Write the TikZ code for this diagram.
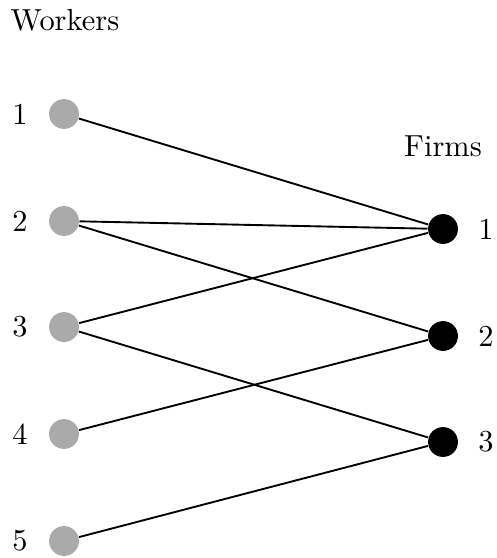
\documentclass[tikz,border=0pt]{standalone}
\definecolor{wgray}{RGB}{170,170,170}
\tikzset{
  worker/.style={circle,fill=wgray,inner sep=0pt,minimum size=10.3pt},
  firm/.style={circle,fill=black,inner sep=0pt,minimum size=10.3pt},
  lab/.style={inner sep=0pt,font=\fontsize{10.5pt}{12pt}\selectfont},
  edge/.style={line width=0.65pt}
}
\begin{document}
\begin{tikzpicture}[x=0.345pt,y=-0.345pt]
\useasboundingbox (0,0) rectangle (496,558);
\node[lab] (wt) at (65,20) {Workers};
\node[lab] (ft) at (443,146) {Firms};
\foreach \i/\y in {1/114,2/221,3/327,4/434,5/541}{
  \node[worker] (w\i) at (64,\y) {};
  \node[lab] (wl\i) at (20,\y) {\i};
}
\foreach \i/\y in {1/229,2/336,3/442}{
  \node[firm] (f\i) at (443,\y) {};
  \node[lab] (fl\i) at (486,\y) {\i};
}
\draw[edge] (w1) -- (f1);
\draw[edge] (w2) -- (f1);
\draw[edge] (w2) -- (f2);
\draw[edge] (w3) -- (f1);
\draw[edge] (w3) -- (f3);
\draw[edge] (w4) -- (f2);
\draw[edge] (w5) -- (f3);
\end{tikzpicture}
\end{document}
